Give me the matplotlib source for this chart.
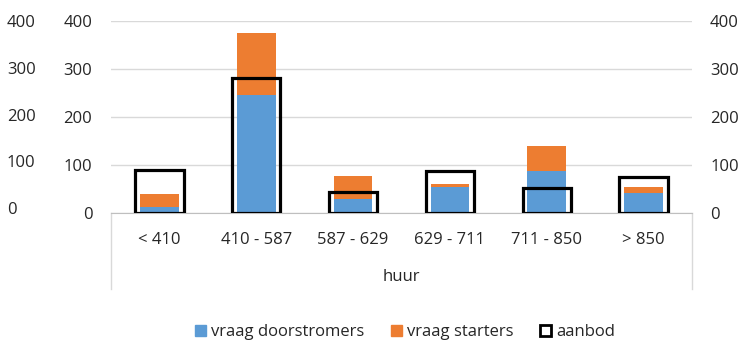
import matplotlib.pyplot as plt
from matplotlib.patches import Patch
from matplotlib.lines import Line2D

plt.rcParams['font.family'] = ['Open Sans', 'DejaVu Sans']
plt.rcParams['font.size'] = 12

# data
categories = ["< 410", "410 - 587", "587 - 629", "629 - 711", "711 - 850", "> 850"]
doorstromers = [11, 246, 28, 54, 88, 42]
starters = [27, 129, 49, 5, 52, 12]
aanbod = [90, 282, 43, 88, 52, 75]
ticks = [0, 100, 200, 300, 400]

blue = "#5B9BD5"
orange = "#ED7D31"
grid = "#D9D9D9"
txt = "#262626"

fig = plt.figure(figsize=(7.44, 3.43), dpi=100)
pos = [111 / 744, 1 - 212.7 / 343, (692 - 111) / 744, (212.7 - 21) / 343]

# outer, slightly shifted labels on the far left
ax3 = fig.add_axes(pos, zorder=0)
ax3.set_ylim(-10, 400)
ax3.set_yticks(ticks)
ax3.set_xticks([])
for s in ax3.spines.values():
    s.set_visible(False)
ax3.patch.set_visible(False)
ax3.tick_params(axis='y', length=0, pad=75, labelcolor=txt)
for lab in ax3.get_yticklabels():
    lab.set_horizontalalignment('left')

ax = fig.add_axes(pos, zorder=1)
ax.patch.set_visible(False)
x = list(range(len(categories)))
ax.bar(x, doorstromers, width=0.40, color=blue, zorder=2)
ax.bar(x, starters, width=0.40, bottom=doorstromers, color=orange, zorder=2)
ax.set_xlim(-0.5, 5.5)
ax.set_ylim(0, 400)
ax.set_yticks(ticks)
ax.yaxis.grid(True, color=grid, lw=1)
ax.set_axisbelow(True)
for s in ['top', 'right', 'left']:
    ax.spines[s].set_visible(False)
ax.spines['bottom'].set_color("#BFBFBF")
ax.set_xticks(x)
ax.set_xticklabels(categories)
ax.tick_params(axis='x', length=0, pad=14, labelcolor=txt)
ax.tick_params(axis='y', length=0, pad=13.5, labelcolor=txt)

# box of the multi-level category axis
for xe in (0, 1):
    ax.add_line(Line2D([xe, xe], [0, -0.398], transform=ax.transAxes,
                       color=grid, lw=1, clip_on=False))
ax.annotate("huur", xy=(0.5, 0), xycoords='axes fraction', xytext=(0, -46),
            textcoords='offset points', ha='center', va='center', color=txt)

ax2 = ax.twinx()
ax2.bar(x, aanbod, width=0.5, fill=False, edgecolor='black', linewidth=2.3, zorder=3)
ax2.set_ylim(0, 400)
ax2.set_yticks(ticks)
for s in ax2.spines.values():
    s.set_visible(False)
ax2.tick_params(axis='y', length=0, pad=13, labelcolor=txt)

handles = [Patch(facecolor=blue, edgecolor=blue),
           Patch(facecolor=orange, edgecolor=orange),
           Patch(facecolor='white', edgecolor='black', linewidth=2)]
fig.legend(handles, ["vraag doorstromers", "vraag starters", "aanbod"],
           loc='center', bbox_to_anchor=(405 / 744, 1 - 332 / 343), ncol=3,
           frameon=False, handlelength=0.65, handleheight=0.65,
           handletextpad=0.3, columnspacing=1.6, labelcolor=txt)

fig.savefig("out.png", dpi=100)
